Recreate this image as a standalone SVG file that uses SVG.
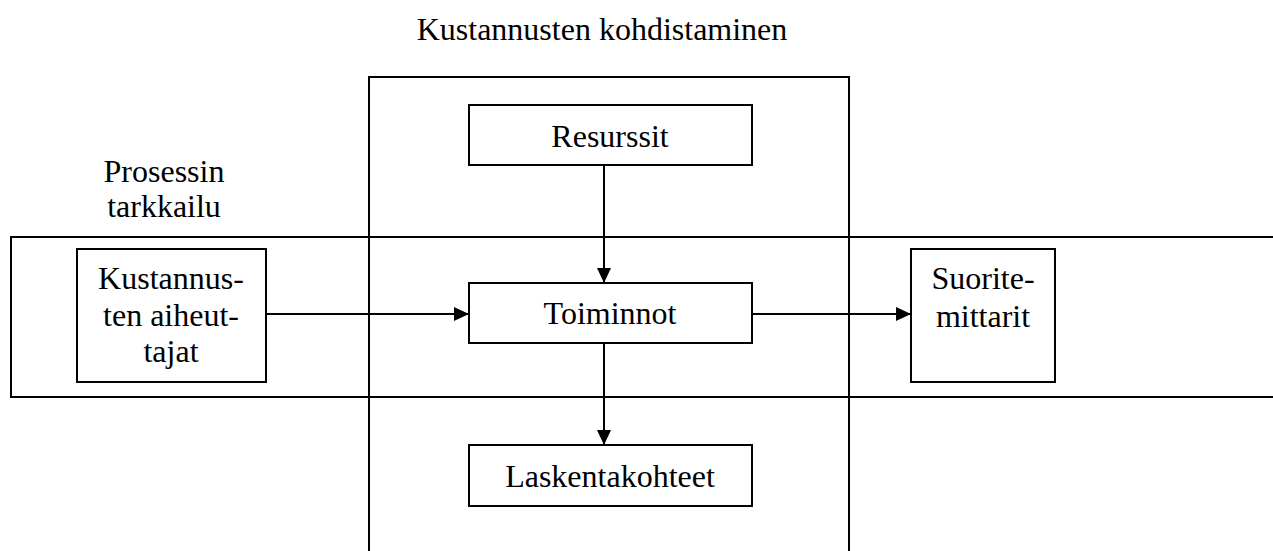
<svg xmlns="http://www.w3.org/2000/svg" width="1273" height="551" viewBox="0 0 1273 551">
  <style>
    .frame { fill: none; stroke: #000; stroke-width: 2; }
    .box { fill: #fff; stroke: #000; stroke-width: 2; }
    .link { fill: none; stroke: #000; stroke-width: 2; }
    text { font-family: "Liberation Serif", "Times New Roman", serif; font-size: 32px; fill: #000; text-anchor: middle; }
  </style>
  <defs>
    <marker id="arrow" markerUnits="userSpaceOnUse" markerWidth="15" markerHeight="14" refX="15" refY="7" orient="auto">
      <path d="M0,0 L15,7 L0,14 Z" fill="#000"/>
    </marker>
  </defs>

  <rect width="1273" height="551" fill="#fff"/>

  <!-- band labels -->
  <text x="602" y="40">Kustannusten kohdistaminen</text>
  <text x="164" y="182">Prosessin</text>
  <text x="164" y="217">tarkkailu</text>

  <!-- horizontal band: process monitoring (open on the right) -->
  <path class="frame" d="M1273,237 H11 V397 H1273"/>
  <!-- vertical band: cost allocation (open at the bottom) -->
  <path class="frame" d="M369,551 V77 H849 V551"/>

  <g id="connectors">
    <line class="link" x1="604" y1="165" x2="604" y2="283" marker-end="url(#arrow)"/>
    <line class="link" x1="266" y1="314" x2="469" y2="314" marker-end="url(#arrow)"/>
    <line class="link" x1="752" y1="314" x2="911" y2="314" marker-end="url(#arrow)"/>
    <line class="link" x1="604" y1="343" x2="604" y2="445" marker-end="url(#arrow)"/>
  </g>

  <g id="resurssit">
    <rect class="box" x="469" y="105" width="283" height="60"/>
    <text x="610" y="147">Resurssit</text>
  </g>

  <g id="toiminnot">
    <rect class="box" x="469" y="283" width="283" height="60"/>
    <text x="610" y="324">Toiminnot</text>
  </g>

  <g id="laskentakohteet">
    <rect class="box" x="469" y="445" width="283" height="61"/>
    <text x="610" y="487">Laskentakohteet</text>
  </g>

  <g id="aiheuttajat">
    <rect class="box" x="77" y="249" width="189" height="133"/>
    <text x="171" y="289">Kustannus-</text>
    <text x="171" y="326">ten aiheut-</text>
    <text x="171" y="362">tajat</text>
  </g>

  <g id="suoritemittarit">
    <rect class="box" x="911" y="249" width="144" height="133"/>
    <text x="983" y="289">Suorite-</text>
    <text x="983" y="327">mittarit</text>
  </g>
</svg>
